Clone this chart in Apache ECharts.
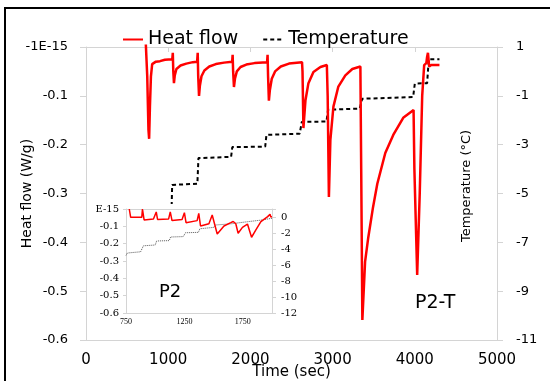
<!DOCTYPE html>
<html>
<head>
<meta charset="utf-8">
<script src="https://cdn.jsdelivr.net/npm/echarts@6/dist/echarts.min.js"></script>
<style>html,body{margin:0;padding:0;background:#fff;}#c{width:550px;height:381px;}</style>
</head>
<body>
<div id="c"></div>
<script>
// ---- Main chart (P2-T) ----
var mainHeatTime = [728,745,760,768,778,790,805,850,900,960,1050,1056,1062,1070,1080,1100,1150,1220,1300,1352,1359,1365,1375,1385,1405,1440,1500,1580,1680,1778,1784,1790,1800,1812,1835,1880,1950,2050,2203,2209,2215,2225,2237,2260,2300,2370,2470,2628,2634,2645,2670,2706,2767,2852,2930,2940,2955,2973,3010,3070,3155,3240,3338,3348,3362,3395,3434,3490,3544,3641,3738,3859,3985,3995,4029,4060,4090,4114,4140,4150,4160,4175,4200,4300];
var mainHeatFlow = [0.005,-0.06,-0.17,-0.188,-0.12,-0.06,-0.035,-0.03,-0.029,-0.026,-0.025,-0.012,-0.05,-0.074,-0.058,-0.045,-0.038,-0.034,-0.031,-0.03,-0.012,-0.06,-0.1,-0.08,-0.06,-0.048,-0.04,-0.035,-0.032,-0.03,-0.016,-0.05,-0.082,-0.065,-0.05,-0.041,-0.036,-0.033,-0.031,-0.016,-0.06,-0.11,-0.088,-0.065,-0.05,-0.04,-0.034,-0.031,-0.05,-0.166,-0.109,-0.074,-0.051,-0.041,-0.037,-0.1,-0.307,-0.19,-0.122,-0.081,-0.058,-0.045,-0.04,-0.25,-0.559,-0.44,-0.39,-0.33,-0.28,-0.217,-0.18,-0.145,-0.129,-0.25,-0.467,-0.3,-0.1,-0.037,-0.033,-0.02,-0.012,-0.04,-0.037,-0.037];
var mainTempTime = [1040,1048,1355,1368,1765,1780,2180,2195,2600,2625,2925,2945,3330,3360,3980,4000,4150,4170,4300];
var mainTemp = [-5.8,-4.65,-4.6,-3.55,-3.5,-3.1,-3.08,-2.6,-2.55,-2.07,-2.05,-1.57,-1.52,-1.12,-1.05,-0.5,-0.48,0.5,0.5];

// ---- Inset (P2) ----
var insetHeatTime = [778,790,885,891,905,985,1009,1020,1115,1129,1144,1230,1250,1264,1359,1373,1388,1460,1488,1531,1589,1647,1668,1690,1710,1747,1790,1802,1825,1862,1905,1963,1975,1983,1990,2000];
var insetHeatFlow = [0,-0.048,-0.048,0,-0.063,-0.058,-0.017,-0.06,-0.057,-0.017,-0.067,-0.06,-0.021,-0.079,-0.067,-0.025,-0.098,-0.085,-0.035,-0.144,-0.098,-0.079,-0.072,-0.085,-0.14,-0.106,-0.087,-0.09,-0.163,-0.121,-0.073,-0.044,-0.04,-0.03,-0.046,-0.044];
var insetTempTime = [750,762,778,875,899,1000,1012,1120,1132,1240,1259,1370,1382,1500,1517,1650,1790,1900,2000];
var insetTemp = [-4.8,-4.5,-4.4,-4.35,-3.6,-3.5,-3.0,-2.95,-2.5,-2.45,-1.97,-1.92,-1.47,-1.3,-1.0,-0.85,-0.59,-0.4,-0.16];

// ---- Axis settings ----
var mainTimeRange = [0, 5000, 1000];
var mainHeatRange = [-0.6, 0, 0.1];
var mainTempRange = [-11, 1, 2];
var insetTimeRange = [750, 2000, 500];
var insetHeatRange = [-0.6, 0, 0.1];
var insetTempRange = [-12, 1, 2];

function pairs(xs, ys) { return xs.map(function (x, i) { return [x, ys[i]]; }); }

var GRAY = '#d4d4d4';
var SANS = 'DejaVu Sans';
var SERIF = 'DejaVu Serif';

var chart = echarts.init(document.getElementById('c'), null, { renderer: 'canvas' });
chart.setOption({
  animation: false,
  backgroundColor: '#fff',
  legend: {
    left: 117, top: 25, itemWidth: 20, itemHeight: 12, itemGap: 24,
    itemStyle: { opacity: 0 },
    textStyle: { fontFamily: SANS, fontSize: 19, color: '#000' },
    data: ['Heat flow', 'Temperature']
  },
  grid: [
    { left: 86, right: 53, top: 47, bottom: 41, outerBoundsMode: 'none', containLabel: false },
    { left: 126, right: 278, top: 209, bottom: 68, outerBoundsMode: 'none', containLabel: false }
  ],
  xAxis: [
    { gridIndex: 0, type: 'value', min: mainTimeRange[0], max: mainTimeRange[1], interval: mainTimeRange[2],
      name: 'Time (sec)', nameLocation: 'middle', nameGap: 25, nameMoveOverlap: false,
      nameTextStyle: { fontFamily: SANS, fontSize: 15, color: '#000' },
      axisLine: { onZero: false, lineStyle: { color: GRAY } }, axisTick: { show: false },
      axisLabel: { fontFamily: SANS, fontSize: 15, color: '#000', margin: 13,
        formatter: function (v) { return String(v); } },
      splitLine: { show: false } },
    { gridIndex: 0, type: 'value', position: 'top', min: mainTimeRange[0], max: mainTimeRange[1], interval: mainTimeRange[2],
      axisLine: { show: true, onZero: false, lineStyle: { color: GRAY } }, axisTick: { show: true, inside: true, length: 5, lineStyle: { color: GRAY } },
      axisLabel: { show: false }, splitLine: { show: false } },
    { gridIndex: 1, type: 'value', min: insetTimeRange[0], max: insetTimeRange[1], interval: insetTimeRange[2], z: 10,
      axisLine: { onZero: false, lineStyle: { color: GRAY } }, axisTick: { show: false },
      axisLabel: { fontFamily: 'Liberation Serif', fontSize: 8, color: '#000', margin: 5,
        formatter: function (v) { return v >= 2000 ? '' : String(v); } },
      splitLine: { show: false } },
    { gridIndex: 1, type: 'value', position: 'top', min: insetTimeRange[0], max: insetTimeRange[1], z: 10,
      axisLine: { show: true, onZero: false, lineStyle: { color: GRAY } }, axisTick: { show: false },
      axisLabel: { show: false }, splitLine: { show: false } }
  ],
  yAxis: [
    { gridIndex: 0, type: 'value', min: mainHeatRange[0], max: mainHeatRange[1], interval: mainHeatRange[2],
      name: 'Heat flow (W/g)', nameLocation: 'middle', nameRotate: 90, nameGap: 52, nameMoveOverlap: false,
      nameTextStyle: { fontFamily: SANS, fontSize: 14, color: '#000' },
      axisLine: { show: true, onZero: false, lineStyle: { color: GRAY } },
      axisTick: { show: true, length: 6, lineStyle: { color: GRAY } },
      axisLabel: { fontFamily: SANS, fontSize: 13, color: '#000', margin: 18,
        formatter: function (v) { return Math.abs(v) < 1e-9 ? '-1E-15' : v.toFixed(1); } },
      splitLine: { show: false } },
    { gridIndex: 0, type: 'value', position: 'right', min: mainTempRange[0], max: mainTempRange[1], interval: mainTempRange[2],
      axisLine: { show: true, onZero: false, lineStyle: { color: GRAY } },
      axisTick: { show: true, length: 6, lineStyle: { color: GRAY } },
      axisLabel: { fontFamily: SANS, fontSize: 13, color: '#000', margin: 19 },
      splitLine: { show: false } },
    { gridIndex: 1, type: 'value', min: insetHeatRange[0], max: insetHeatRange[1], interval: insetHeatRange[2], z: 10,
      axisLine: { show: true, onZero: false, lineStyle: { color: GRAY } },
      axisTick: { show: true, length: 3, lineStyle: { color: GRAY } },
      axisLabel: { fontFamily: SERIF, fontSize: 10, color: '#000', margin: 7,
        formatter: function (v) { return Math.abs(v) < 1e-9 ? 'E-15' : v.toFixed(1); } },
      splitLine: { show: false } },
    { gridIndex: 1, type: 'value', position: 'right', min: insetTempRange[0], max: insetTempRange[1], interval: insetTempRange[2], z: 10,
      axisLine: { show: true, onZero: false, lineStyle: { color: GRAY } },
      axisTick: { show: true, length: 4, lineStyle: { color: GRAY } },
      axisLabel: { fontFamily: SERIF, fontSize: 10, color: '#000', margin: 9,
        formatter: function (v) { return v > 0 ? '' : String(v); } },
      splitLine: { show: false } }
  ],
  graphic: [
    { type: 'rect', z: 5, silent: true, shape: { x: 87, y: 204, width: 213, height: 135 }, style: { fill: '#fff' } },
    { type: 'rect', z: 50, silent: true, shape: { x: 5, y: 8, width: 560, height: 400 }, style: { fill: 'none', stroke: '#000', lineWidth: 2 } },
    { type: 'text', z: 20, x: 159, y: 283, style: { text: 'P2', font: '18px "DejaVu Sans"', fill: '#000' } },
    { type: 'text', z: 20, x: 415, y: 294, style: { text: 'P2-T', font: '19px "DejaVu Sans"', fill: '#000' } },
    { type: 'text', z: 20, x: 467, y: 186, rotation: Math.PI / 2,
      style: { text: 'Temperature (°C)', font: '13px "DejaVu Sans"', fill: '#000', textAlign: 'center', textVerticalAlign: 'middle' } }
  ],
  series: [
    { name: 'Temperature', type: 'line', xAxisIndex: 0, yAxisIndex: 1, symbol: 'none', z: 2,
      data: pairs(mainTempTime, mainTemp), color: '#000',
      lineStyle: { color: '#000', width: 2, type: [4, 3] } },
    { name: 'Heat flow', type: 'line', xAxisIndex: 0, yAxisIndex: 0, symbol: 'none', z: 3, clip: false,
      data: pairs(mainHeatTime, mainHeatFlow), color: '#ff0000',
      lineStyle: { color: '#ff0000', width: 2.5 } },
    { name: 'P2 temperature', type: 'line', xAxisIndex: 2, yAxisIndex: 3, symbol: 'none', z: 12,
      data: pairs(insetTempTime, insetTemp),
      lineStyle: { color: '#555', width: 1, type: [1, 1] } },
    { name: 'P2 heat flow', type: 'line', xAxisIndex: 2, yAxisIndex: 2, symbol: 'none', z: 12,
      data: pairs(insetHeatTime, insetHeatFlow),
      lineStyle: { color: '#ff0000', width: 1.5 } }
  ]
});
</script>
</body>
</html>
